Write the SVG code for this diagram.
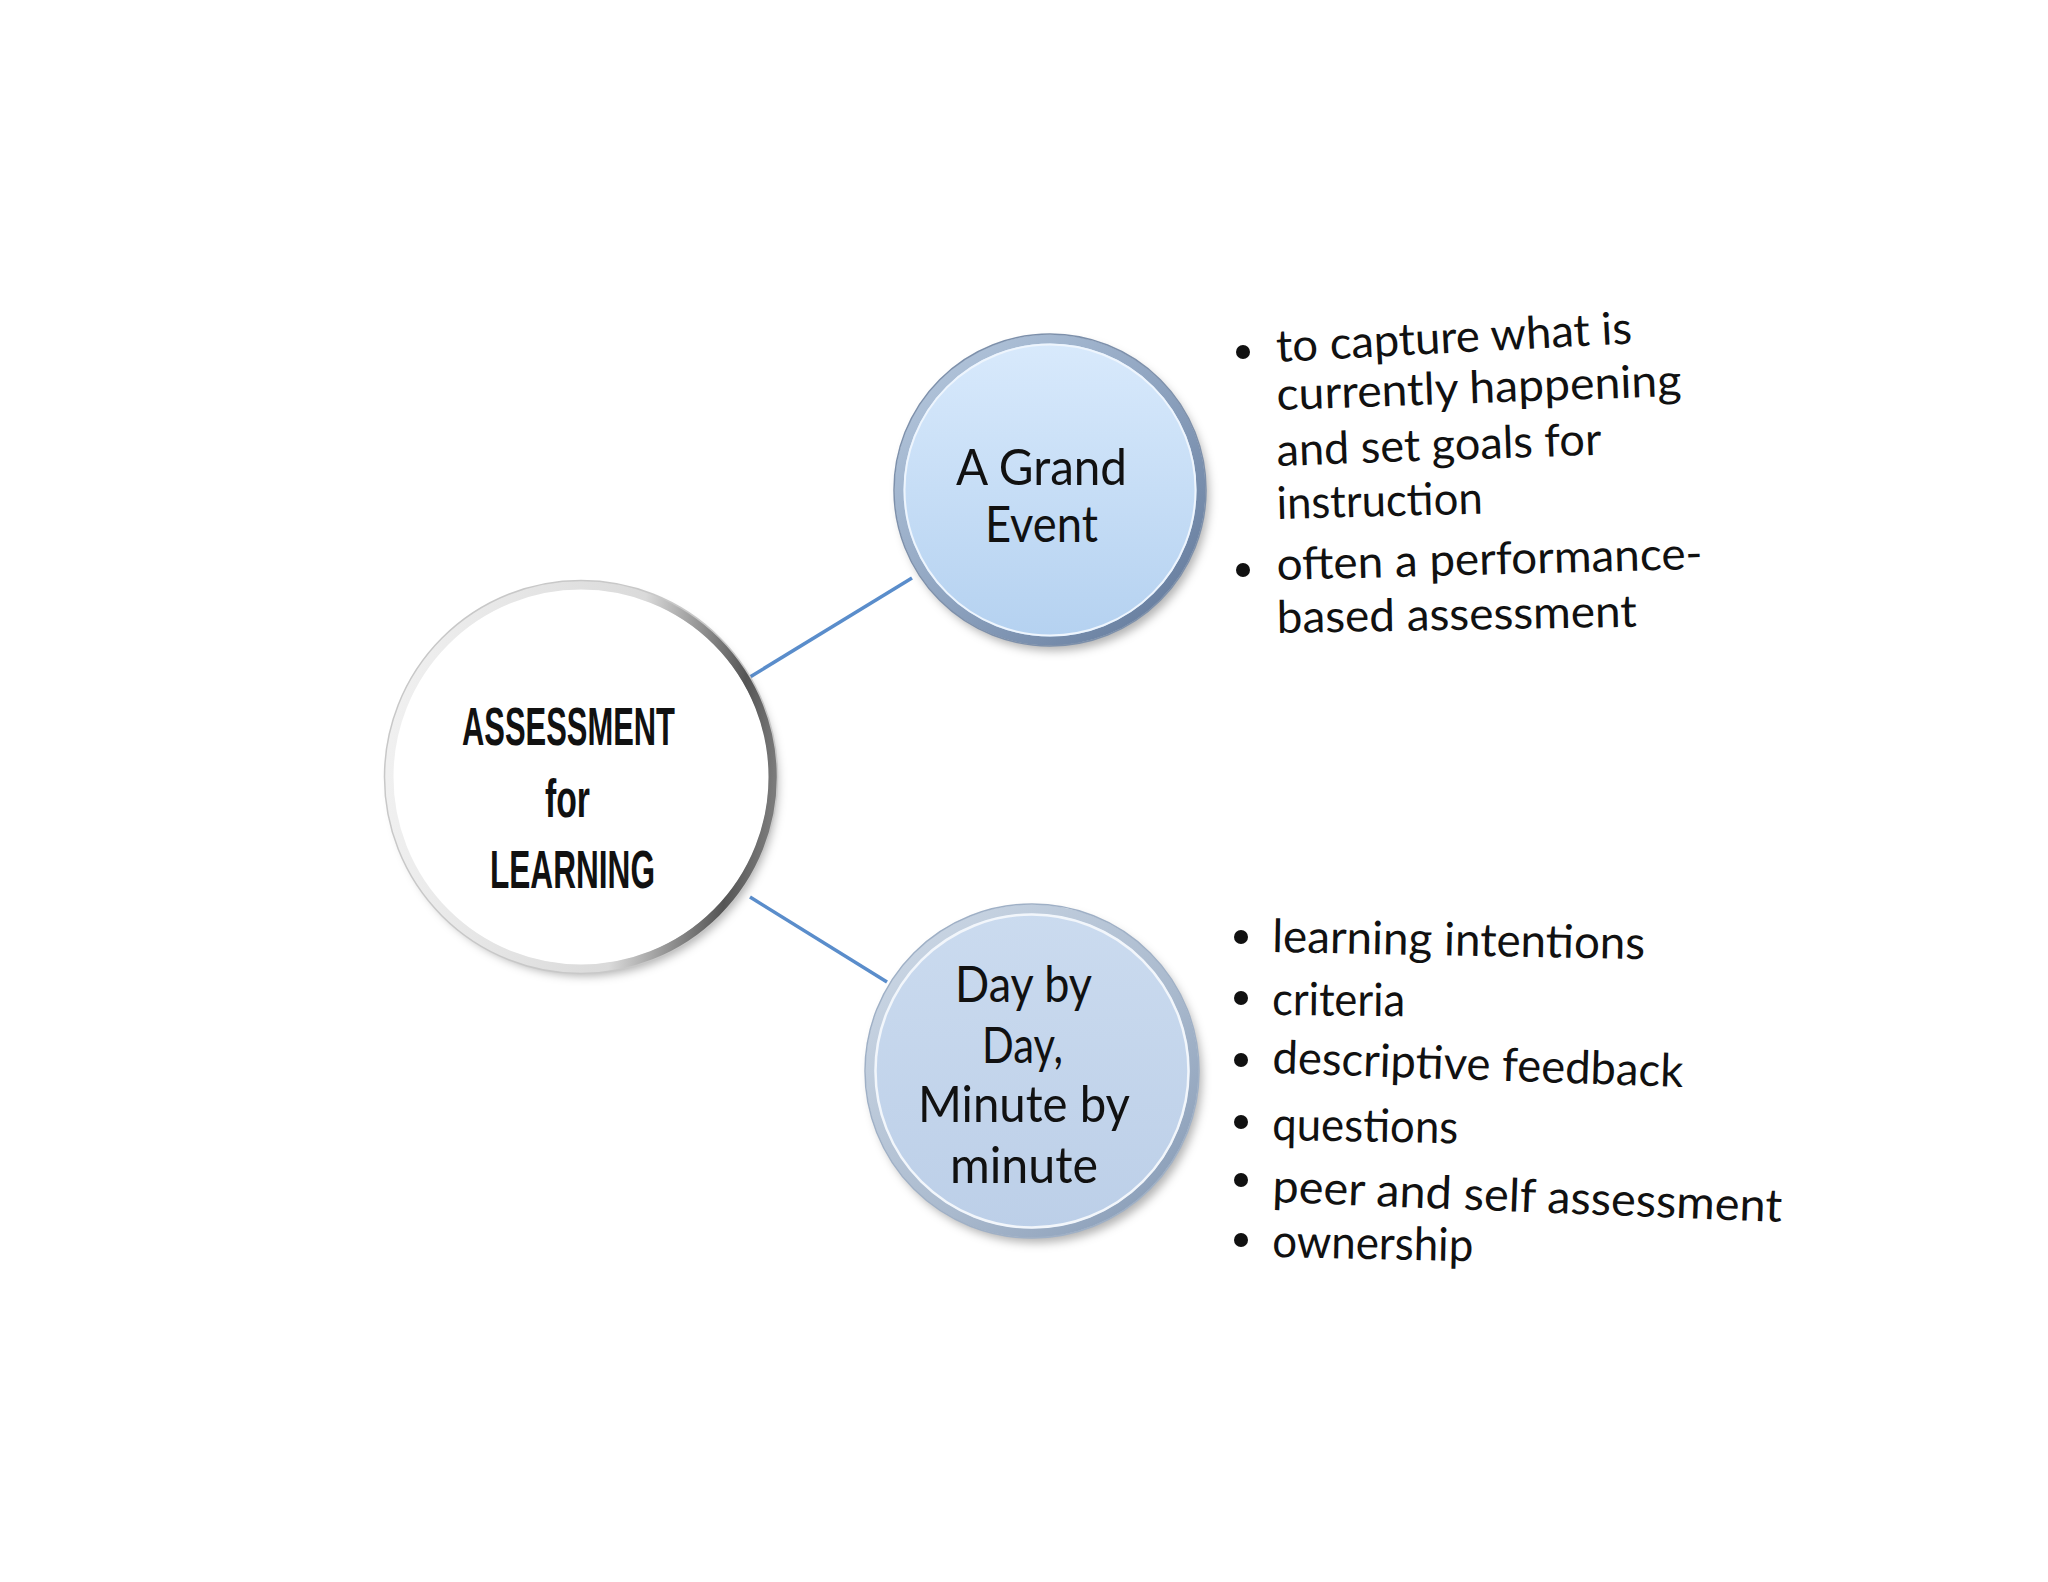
<svg xmlns="http://www.w3.org/2000/svg" width="2048" height="1582" viewBox="0 0 2048 1582">
<style>
.ct{font-family:"Liberation Sans Narrow","Liberation Sans",Arial,sans-serif;font-weight:bold;font-size:54px;fill:#111}
.nt{font-family:Lato,"Open Sans",sans-serif;font-size:50px;fill:#111}
.bt{font-family:Lato,"Open Sans",sans-serif;font-size:45px;fill:#111}
.bt2{font-family:Lato,"Open Sans",sans-serif;font-size:46px;fill:#111}
.conn{stroke:#5a8dcb;stroke-width:3.5;fill:none}
.bul{fill:#111}
</style>
<defs>
<filter id="sh" x="-20%" y="-20%" width="150%" height="150%">
<feDropShadow dx="4" dy="6" stdDeviation="5" flood-color="#000" flood-opacity="0.3"/>
</filter>
<linearGradient id="ringW" x1="0" y1="0.45" x2="1" y2="0.55">
<stop offset="0" stop-color="#f0f0f0"/>
<stop offset="0.62" stop-color="#dadada"/>
<stop offset="0.9" stop-color="#555555"/>
<stop offset="1" stop-color="#7a7a7a"/>
</linearGradient>
<linearGradient id="fillB" x1="0" y1="0" x2="0" y2="1">
<stop offset="0" stop-color="#d9eafc"/>
<stop offset="1" stop-color="#b4d1f0"/>
</linearGradient>
<linearGradient id="ringB" x1="0" y1="0" x2="1" y2="1">
<stop offset="0" stop-color="#b9cbe0"/>
<stop offset="0.5" stop-color="#8fa4c0"/>
<stop offset="1" stop-color="#5e7597"/>
</linearGradient>
<linearGradient id="fillD" x1="0" y1="0" x2="0" y2="1">
<stop offset="0" stop-color="#cbdbef"/>
<stop offset="1" stop-color="#bccfe8"/>
</linearGradient>
<linearGradient id="ringD" x1="0" y1="0" x2="1" y2="1">
<stop offset="0" stop-color="#d0dbe8"/>
<stop offset="0.6" stop-color="#a9b9cd"/>
<stop offset="1" stop-color="#8196b2"/>
</linearGradient>
</defs>
<rect width="2048" height="1582" fill="#ffffff"/>

<g id="connectors">
<line class="conn" x1="750" y1="677" x2="912" y2="578"/>
<line class="conn" x1="750" y1="897" x2="887" y2="982"/>
</g>

<g id="node-center">
<circle cx="581" cy="777" r="193" fill="#ffffff" filter="url(#sh)"/>
<circle cx="581" cy="777" r="192" fill="none" stroke="url(#ringW)" stroke-width="9"/>
<circle cx="581" cy="777" r="186" fill="none" stroke="#ffffff" stroke-width="2" opacity="0.9"/>
<circle cx="581" cy="777" r="196.5" fill="none" stroke="#c8c8c8" stroke-width="1.5"/>
<text class="ct" x="462" y="745" textLength="213" lengthAdjust="spacingAndGlyphs">ASSESSMENT</text>
<text class="ct" x="545" y="817" textLength="45" lengthAdjust="spacingAndGlyphs">for</text>
<text class="ct" x="490" y="888" textLength="165" lengthAdjust="spacingAndGlyphs">LEARNING</text>
</g>

<g id="node-grand">
<circle cx="1050" cy="490" r="155" fill="url(#fillB)" filter="url(#sh)"/>
<circle cx="1050" cy="490" r="151" fill="none" stroke="url(#ringB)" stroke-width="9"/>
<circle cx="1050" cy="490" r="145.5" fill="none" stroke="#eef5fd" stroke-width="2"/>
<circle cx="1050" cy="490" r="156" fill="none" stroke="#7d90ab" stroke-width="1.5"/>
<text class="nt" x="956" y="485" textLength="171" lengthAdjust="spacingAndGlyphs">A Grand</text>
<text class="nt" x="985" y="542" textLength="113" lengthAdjust="spacingAndGlyphs">Event</text>
</g>

<g id="node-day">
<circle cx="1032" cy="1071" r="166" fill="url(#fillD)" filter="url(#sh)"/>
<circle cx="1032" cy="1071" r="162" fill="none" stroke="url(#ringD)" stroke-width="9"/>
<circle cx="1032" cy="1071" r="156.5" fill="none" stroke="#f2f6fb" stroke-width="2.5"/>
<circle cx="1032" cy="1071" r="167" fill="none" stroke="#9fb0c6" stroke-width="1.5"/>
<text class="nt" x="955" y="1002" textLength="137" lengthAdjust="spacingAndGlyphs">Day by</text>
<text class="nt" x="982" y="1063" textLength="81" lengthAdjust="spacingAndGlyphs">Day,</text>
<text class="nt" x="918" y="1122" textLength="212" lengthAdjust="spacingAndGlyphs">Minute by</text>
<text class="nt" x="950" y="1183" textLength="148" lengthAdjust="spacingAndGlyphs">minute</text>
</g>

<g id="list-grand">
<circle class="bul" cx="1243" cy="352" r="7"/>
<circle class="bul" cx="1243" cy="570" r="7"/>
<text class="bt" x="1277" y="362" textLength="356" lengthAdjust="spacingAndGlyphs" transform="rotate(-3 1277 362)">to capture what is</text>
<text class="bt" x="1277" y="410" textLength="405" lengthAdjust="spacingAndGlyphs" transform="rotate(-2 1277 410)">currently happening</text>
<text class="bt" x="1277" y="466" textLength="325" lengthAdjust="spacingAndGlyphs" transform="rotate(-2 1277 466)">and set goals for</text>
<text class="bt" x="1277" y="519" textLength="206" lengthAdjust="spacingAndGlyphs" transform="rotate(-1.5 1277 519)">instruction</text>
<text class="bt" x="1277" y="580" textLength="426" lengthAdjust="spacingAndGlyphs" transform="rotate(-1.5 1277 580)">often a performance-</text>
<text class="bt" x="1277" y="633" textLength="360" lengthAdjust="spacingAndGlyphs" transform="rotate(-1 1277 633)">based assessment</text>
</g>

<g id="list-day">
<circle class="bul" cx="1241" cy="937" r="7"/>
<circle class="bul" cx="1241" cy="998" r="7"/>
<circle class="bul" cx="1241" cy="1060" r="7"/>
<circle class="bul" cx="1241" cy="1122" r="7"/>
<circle class="bul" cx="1241" cy="1180" r="7"/>
<circle class="bul" cx="1241" cy="1240" r="7"/>
<text class="bt2" x="1272" y="952" textLength="373" lengthAdjust="spacingAndGlyphs" transform="rotate(1.1 1272 952)">learning intentions</text>
<text class="bt2" x="1272" y="1015" textLength="133" lengthAdjust="spacingAndGlyphs" transform="rotate(0.5 1272 1015)">criteria</text>
<text class="bt2" x="1272" y="1073" textLength="411" lengthAdjust="spacingAndGlyphs" transform="rotate(1.95 1272 1073)">descriptive feedback</text>
<text class="bt2" x="1272" y="1140" textLength="186" lengthAdjust="spacingAndGlyphs" transform="rotate(1 1272 1140)">questions</text>
<text class="bt2" x="1272" y="1202" textLength="510" lengthAdjust="spacingAndGlyphs" transform="rotate(2.25 1272 1202)">peer and self assessment</text>
<text class="bt2" x="1272" y="1257" textLength="201" lengthAdjust="spacingAndGlyphs" transform="rotate(1.2 1272 1257)">ownership</text>
</g>
</svg>
